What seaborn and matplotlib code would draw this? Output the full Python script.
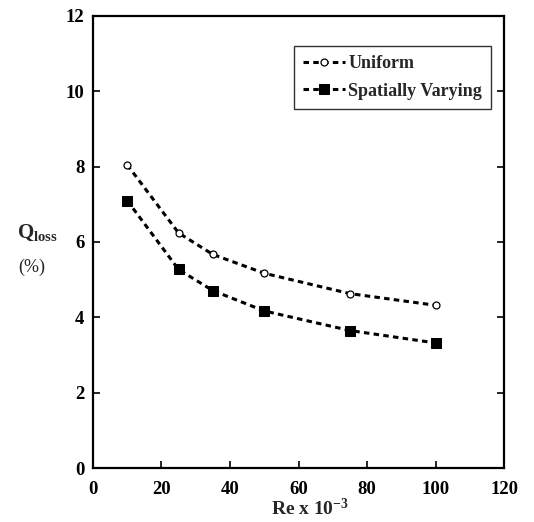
import matplotlib
matplotlib.use("Agg")
import matplotlib.pyplot as plt
import seaborn as sns
import pandas as pd

re_vals = [10, 25, 35, 50, 75, 100]
uniform = [8.05, 6.24, 5.67, 5.17, 4.63, 4.32]
spatial = [7.10, 5.27, 4.71, 4.17, 3.65, 3.32]
x_ticks = [0, 20, 40, 60, 80, 100, 120]
y_ticks = [0, 2, 4, 6, 8, 10, 12]

sns.set_theme(style="white")
plt.rcParams['font.family'] = ['Liberation Serif', 'DejaVu Serif']
plt.rcParams['font.weight'] = 'bold'
plt.rcParams['mathtext.fontset'] = 'custom'
plt.rcParams['mathtext.rm'] = 'Liberation Serif:bold'
plt.rcParams['mathtext.bf'] = 'Liberation Serif:bold'
plt.rcParams['mathtext.default'] = 'bf'

df = pd.DataFrame({
    "Re": re_vals * 2,
    "Q": uniform + spatial,
    "series": ["Uniform"] * len(re_vals) + ["Spatially Varying"] * len(re_vals),
})

fig = plt.figure(figsize=(5.34, 5.22), dpi=100)
ax = fig.add_axes([0.174, 0.1034, 0.770, 0.866])

sns.lineplot(data=df[df.series == "Uniform"], x="Re", y="Q", ax=ax, color="black",
             linestyle=(0, (1.8, 1.4)), linewidth=2.2, marker="o", markersize=5,
             markerfacecolor="white", markeredgecolor="black", markeredgewidth=0.9,
             label="Uniform")
sns.lineplot(data=df[df.series == "Spatially Varying"], x="Re", y="Q", ax=ax, color="black",
             linestyle=(0, (1.8, 1.4)), linewidth=2.2, marker="s", markersize=6.5,
             markerfacecolor="black", markeredgecolor="black",
             label="Spatially Varying")

ax.set_xlim(0, 120)
ax.set_ylim(0, 12)
ax.set_xticks(x_ticks)
ax.set_yticks(y_ticks)
ax.tick_params(direction="in", length=5, width=1.2, labelsize=13.5, colors="black",
               right=True, left=True, bottom=True, top=False)
ax.tick_params(axis="y", pad=6)
ax.tick_params(axis="x", pad=9)
for lbl in ax.get_xticklabels() + ax.get_yticklabels():
    lbl.set_fontweight("bold")
for s in ax.spines.values():
    s.set_color("black")
    s.set_linewidth(1.6)

ax.set_xlabel(r"Re x 10$^{-3}$", fontsize=14, fontweight="bold", labelpad=0)
ax.xaxis.label.set_x(0.527)
ax.set_ylabel("")
fig.text(0.031, 0.553, r"Q$_{loss}$", fontsize=15, fontweight="bold", ha="left", va="center")
fig.text(0.035, 0.488, "(%)", fontsize=13, fontweight="normal", ha="left", va="center")

leg = ax.legend(loc="upper right", bbox_to_anchor=(0.968, 0.934), frameon=True, fancybox=False,
                edgecolor="black", fontsize=13, handlelength=2.3, borderpad=0.5,
                labelspacing=0.6, handletextpad=0.2, borderaxespad=0.0)
leg.get_frame().set_linewidth(1.0)
for t in leg.get_texts():
    t.set_fontweight("bold")

fig.savefig("out.png", dpi=100, facecolor="white")
